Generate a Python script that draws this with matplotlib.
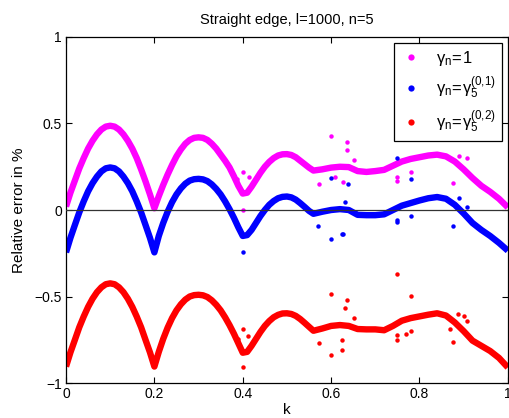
import numpy as np
import matplotlib
matplotlib.use("Agg")
import matplotlib.pyplot as plt
from matplotlib.lines import Line2D
import matplotlib.ticker as ticker

plt.rcParams["font.family"] = ["Liberation Sans", "DejaVu Sans"]
plt.rcParams["mathtext.fontset"] = "custom"
plt.rcParams["mathtext.rm"] = "Liberation Sans"
plt.rcParams["mathtext.it"] = "Liberation Sans"
plt.rcParams["mathtext.sf"] = "Liberation Sans"
plt.rcParams["mathtext.default"] = "regular"

# --- data ---
k = [0.00, 0.01, 0.02, 0.03, 0.04, 0.05, 0.06, 0.07, 0.08, 0.09, 0.10,
     0.11, 0.12, 0.13, 0.14, 0.15, 0.16, 0.17, 0.18, 0.19, 0.20,
     0.21, 0.22, 0.23, 0.24, 0.25, 0.26, 0.27, 0.28, 0.29, 0.30,
     0.31, 0.32, 0.33, 0.34, 0.35, 0.36, 0.37, 0.38, 0.39, 0.40,
     0.41, 0.42, 0.43, 0.44, 0.45, 0.46, 0.47, 0.48, 0.49, 0.50,
     0.51, 0.52, 0.53, 0.54, 0.55, 0.56,
     0.58, 0.60, 0.62, 0.64, 0.66, 0.68, 0.70, 0.72, 0.74, 0.76, 0.78, 0.80,
     0.82, 0.84, 0.86, 0.88, 0.90, 0.92, 0.94, 0.96, 0.98, 1.00]

err_1 = [0.02, 0.10, 0.17, 0.24, 0.30, 0.355, 0.40, 0.437, 0.465, 0.482, 0.487,
         0.482, 0.465, 0.437, 0.40, 0.355, 0.30, 0.235, 0.165, 0.09, 0.01,
         0.08, 0.145, 0.205, 0.26, 0.31, 0.35, 0.383, 0.405, 0.417, 0.42,
         0.417, 0.405, 0.383, 0.355, 0.32, 0.285, 0.246, 0.195, 0.14, 0.095,
         0.10, 0.135, 0.175, 0.215, 0.25, 0.278, 0.30, 0.315, 0.322, 0.323,
         0.318, 0.305, 0.285, 0.265, 0.245, 0.228,
         0.235, 0.245, 0.25, 0.248, 0.225, 0.22, 0.225, 0.232, 0.256, 0.28, 0.295, 0.305,
         0.315, 0.32, 0.31, 0.28, 0.235, 0.185, 0.14, 0.105, 0.065, 0.015]

err_01 = [-0.245, -0.161, -0.087, -0.014, 0.05, 0.108, 0.155, 0.193, 0.223, 0.241, 0.246,
          0.241, 0.223, 0.193, 0.155, 0.108, 0.05, -0.014, -0.087, -0.161, -0.245,
          -0.15, -0.075, -0.01, 0.045, 0.09, 0.125, 0.152, 0.17, 0.178, 0.18,
          0.177, 0.167, 0.148, 0.122, 0.09, 0.05, 0.005, -0.045, -0.10, -0.15,
          -0.145, -0.115, -0.075, -0.035, 0.0, 0.03, 0.052, 0.068, 0.076, 0.078,
          0.073, 0.06, 0.04, 0.018, -0.005, -0.022,
          -0.01, 0.0, 0.005, 0.0, -0.028, -0.03, -0.03, -0.025, 0.0, 0.025, 0.04, 0.055,
          0.068, 0.075, 0.065, 0.03, -0.02, -0.075, -0.115, -0.15, -0.19, -0.235]

err_02 = [-0.905, -0.823, -0.751, -0.678, -0.616, -0.56, -0.513, -0.475, -0.447, -0.429, -0.424,
          -0.429, -0.447, -0.475, -0.513, -0.56, -0.616, -0.678, -0.751, -0.823, -0.905,
          -0.82, -0.745, -0.68, -0.625, -0.58, -0.545, -0.518, -0.50, -0.492, -0.49,
          -0.493, -0.503, -0.522, -0.548, -0.58, -0.62, -0.665, -0.715, -0.77, -0.825,
          -0.82, -0.785, -0.745, -0.705, -0.67, -0.642, -0.62, -0.606, -0.598, -0.597,
          -0.601, -0.612, -0.63, -0.652, -0.675, -0.698,
          -0.685, -0.67, -0.665, -0.67, -0.688, -0.69, -0.69, -0.695, -0.67, -0.64, -0.625, -0.615,
          -0.605, -0.597, -0.61, -0.65, -0.70, -0.755, -0.785, -0.815, -0.855, -0.91]

# scattered points off the main band
out1_k = [0.40, 0.415, 0.388, 0.40, 0.60, 0.637, 0.635, 0.572, 0.609, 0.627, 0.651,
          0.75, 0.75, 0.78, 0.78, 0.755, 0.876, 0.889, 0.908]
out1_v = [0.22, 0.19, 0.18, 0.0, 0.428, 0.395, 0.346, 0.15, 0.19, 0.16, 0.29,
          0.19, 0.17, 0.22, 0.42, 0.54, 0.155, 0.313, 0.30]

out01_k = [0.40, 0.60, 0.627, 0.60, 0.638, 0.631, 0.571, 0.625, 0.75, 0.75, 0.75,
           0.78, 0.78, 0.876, 0.889, 0.908]
out01_v = [-0.243, -0.17, -0.137, 0.185, 0.15, 0.045, -0.095, -0.137, 0.298, -0.056, -0.07,
           -0.032, 0.18, -0.095, 0.07, 0.02]

out02_k = [0.40, 0.40, 0.39, 0.413, 0.60, 0.636, 0.632, 0.624, 0.624, 0.60, 0.572, 0.651,
           0.75, 0.78, 0.75, 0.75, 0.77, 0.78, 0.875, 0.888, 0.901, 0.908, 0.87]
out02_v = [-0.69, -0.91, -0.745, -0.727, -0.486, -0.52, -0.568, -0.754, -0.808, -0.838, -0.766,
           -0.625, -0.371, -0.495, -0.72, -0.75, -0.716, -0.70, -0.765, -0.602, -0.61, -0.64, -0.69]

labels = [r"$\gamma_n\!=\!1$", r"$\gamma_n\!=\!\gamma_5^{(0{,}1)}$", r"$\gamma_n\!=\!\gamma_5^{(0{,}2)}$"]
colors = ["#ff00ff", "#0000ff", "#ff0000"]

fig = plt.figure(figsize=(5.09, 4.18), dpi=100)
ax = fig.add_axes([0.1297, 0.0837, 0.868, 0.8278])

for yv, ok, ov, c in [(err_1, out1_k, out1_v, colors[0]),
                      (err_01, out01_k, out01_v, colors[1]),
                      (err_02, out02_k, out02_v, colors[2])]:
    ax.plot(k, yv, color=c, lw=4.6, solid_joinstyle="round", solid_capstyle="butt")
    ax.plot(ok, ov, "o", color=c, ms=3.2, mec="none")

ax.axhline(0, color="#333333", lw=0.9, zorder=5)

ax.set_xlim(0, 1)
ax.set_ylim(-1, 1)
ax.set_xticks([0, 0.2, 0.4, 0.6, 0.8, 1])
ax.set_yticks([-1, -0.5, 0, 0.5, 1])
ax.xaxis.set_major_formatter(ticker.FuncFormatter(lambda v, p: f"{v:g}"))
ax.yaxis.set_major_formatter(ticker.FuncFormatter(lambda v, p: f"{v:g}".replace("-", "\u2212")))
ax.tick_params(direction="in", top=True, right=True, length=4, labelsize=10, pad=3)
for s in ax.spines.values():
    s.set_linewidth(0.9)

ax.set_title("Straight edge, l=1000, n=5", fontsize=10.5, pad=9)
ax.set_ylabel("Relative error in %", fontsize=11, labelpad=6)
ax.set_xlabel("k", fontsize=11, labelpad=1)

handles = [Line2D([], [], ls="none", marker="o", ms=4.5, color=c, mec="none") for c in colors]
leg = ax.legend(handles, labels, loc="upper right", fontsize=12, frameon=True,
                fancybox=False, framealpha=1, edgecolor="black", handlelength=1.4,
                borderaxespad=0.35, borderpad=0.35, labelspacing=0.45, handletextpad=0.8)
leg.get_frame().set_linewidth(0.9)

fig.savefig("out.png", dpi=100)
